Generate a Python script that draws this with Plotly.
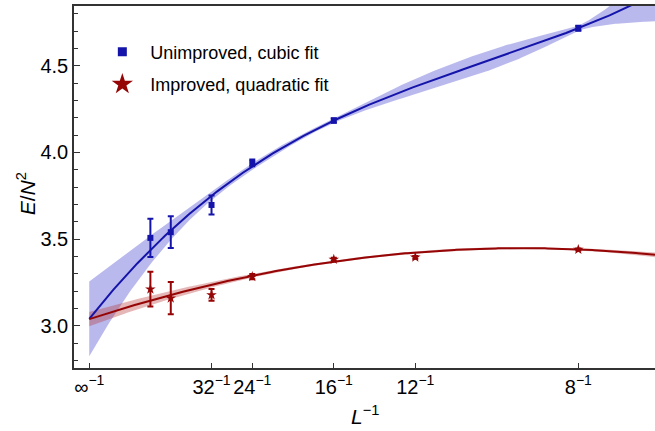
import numpy as np
import plotly.graph_objects as go

# ---- data ----
L_unimp = [64, 48, 32, 24, 16, 8]
E_unimp = [3.507, 3.540, 3.697, 3.940, 4.184, 4.717]
err_unimp = [0.110, 0.092, 0.055, 0.020, 0.013, 0.015]

L_imp = [64, 48, 32, 24, 16, 12, 8]
E_imp = [3.211, 3.159, 3.178, 3.283, 3.383, 3.395, 3.440]
err_imp = [0.100, 0.093, 0.034, 0.015, 0.010, 0.008, 0.006]

# fit polynomials in L^-1 (constant term first)
fit_unimp_coef = [3.04, 28.45, -204.4, 673.1]   # cubic
fit_imp_coef = [3.038, 7.41, -33.5]             # quadratic

tick_L = [None, 32, 24, 16, 12, 8]
tick_labels = ["∞", "32", "24", "16", "12", "8"]

BLUE = "rgb(20,20,170)"
RED = "rgb(150,5,5)"
BLUE_BAND = "rgba(80,80,210,0.40)"
RED_BAND = "rgba(180,50,50,0.35)"

x_u = 1.0 / np.array(L_unimp, float)
x_i = 1.0 / np.array(L_imp, float)

xs = np.linspace(0.0, 0.1446, 300)


def fit_band(x, e, coef):
    deg = len(coef) - 1
    _, C = np.polyfit(x, np.zeros_like(x), deg, w=1.0 / np.array(e), cov="unscaled")
    V = np.vander(xs, deg + 1)
    yf = np.polynomial.polynomial.polyval(xs, coef)
    sd = np.sqrt(np.einsum("ij,jk,ik->i", V, C, V))
    return yf, sd


yf_u, sd_u = fit_band(x_u, err_unimp, fit_unimp_coef)
yf_i, sd_i = fit_band(x_i, err_imp, fit_imp_coef)

fig = go.Figure()


def band(yf, sd, color):
    fig.add_trace(go.Scatter(x=xs, y=yf + sd, mode="lines", line=dict(width=0),
                             hoverinfo="skip", showlegend=False))
    fig.add_trace(go.Scatter(x=xs, y=yf - sd, mode="lines", line=dict(width=0),
                             fill="tonexty", fillcolor=color, hoverinfo="skip",
                             showlegend=False))


band(yf_u, sd_u, BLUE_BAND)
band(yf_i, sd_i, RED_BAND)

fig.add_trace(go.Scatter(x=xs, y=yf_u, mode="lines", line=dict(color=BLUE, width=2),
                         showlegend=False))
fig.add_trace(go.Scatter(x=xs, y=yf_i, mode="lines", line=dict(color=RED, width=2),
                         showlegend=False))

fig.add_trace(go.Scatter(
    x=x_u, y=E_unimp, mode="markers", showlegend=False,
    marker=dict(symbol="square", size=6, color=BLUE),
    error_y=dict(type="data", array=err_unimp, color=BLUE, thickness=2, width=3)))
fig.add_trace(go.Scatter(
    x=x_i, y=E_imp, mode="markers", showlegend=False,
    marker=dict(symbol="star", size=8, color=RED),
    error_y=dict(type="data", array=err_imp, color=RED, thickness=2, width=3)))

# legend entries
fig.add_trace(go.Scatter(x=[None], y=[None], mode="markers", name="Unimproved, cubic fit",
                         legendgroup="a",
                         marker=dict(symbol="square", size=9, color=BLUE)))
fig.add_trace(go.Scatter(x=[None], y=[None], mode="markers", name="Improved, quadratic fit",
                         legendgroup="b",
                         marker=dict(symbol="star", size=16, color=RED)))

tickvals = [0.0 if t is None else 1.0 / t for t in tick_L]
ticktext = [f"{s}<sup>−1</sup>" for s in tick_labels]

FONT = "Liberation Sans, Arial, sans-serif"

fig.update_layout(
    width=655, height=431,
    margin=dict(l=74, r=0, t=6, b=63),
    paper_bgcolor="white", plot_bgcolor="white",
    font=dict(family=FONT, color="black", size=20),
    legend=dict(x=0.035, y=0.924, xanchor="left", yanchor="top",
                font=dict(size=18, family=FONT), bgcolor="rgba(0,0,0,0)",
                traceorder="grouped", tracegroupgap=6, itemsizing="trace",
                itemwidth=46),
    xaxis=dict(range=[-0.0039, 0.1446], tickvals=tickvals, ticktext=ticktext,
               showgrid=False, zeroline=False, showline=True, linecolor="#333",
               linewidth=1.5, mirror=True, ticks="inside", ticklen=5,
               tickcolor="#333", tickfont=dict(size=20)),
    yaxis=dict(range=[2.756, 4.8455], tickvals=[3.0, 3.5, 4.0, 4.5],
               ticktext=["3.0", "3.5", "4.0", "4.5"],
               showgrid=False, zeroline=False, showline=True, linecolor="#333",
               linewidth=1.5, ticks="inside", ticklen=6, tickcolor="#333",
               tickfont=dict(size=20),
               minor=dict(dtick=0.1, tick0=0, ticks="inside", ticklen=4,
                          tickcolor="#333", showgrid=False)),
    annotations=[
        dict(text="<i>E</i>/<i>N</i><sup>2</sup>", xref="paper", yref="paper",
             x=-0.0, xshift=-48, y=0.48, textangle=-90, showarrow=False,
             font=dict(size=21), xanchor="center", yanchor="middle"),
        dict(text="<i>L</i><sup>−1</sup>", xref="paper", yref="paper",
             x=0.5, y=-0.13, showarrow=False, font=dict(size=21),
             xanchor="center", yanchor="middle"),
    ],
)

fig.write_html("out.html")
